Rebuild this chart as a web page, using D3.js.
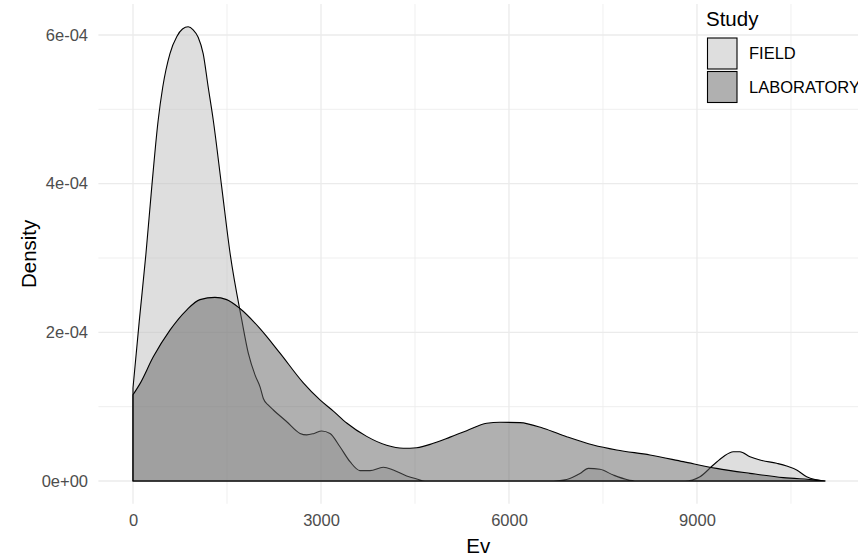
<!DOCTYPE html>
<html>
<head>
<meta charset="utf-8">
<script src="https://cdn.jsdelivr.net/npm/d3@7"></script>
<style>
  body { margin: 0; background: #fff; }
  svg { display: block; font-family: "Liberation Sans", Arial, sans-serif; }
</style>
</head>
<body>
<div id="chart"></div>
<script>
// density values are stored in units of 1e-4
const DENSITY_UNIT = 1e-4;

const studies = ['FIELD', 'LABORATORY'];

const fieldEv = [0, 100, 207, 300, 400, 475, 590, 700, 790, 880, 960, 1040, 1120, 1200, 1280, 1415, 1550, 1735, 1840, 1950, 2030, 2080, 2160, 2240, 2450, 2665, 2772, 2890, 3011, 3144, 3303, 3463, 3622, 3782, 3994, 4154, 4367, 4527, 4660, 6710, 6920, 7133, 7266, 7452, 7665, 7878, 8037, 8808, 9048, 9260, 9420, 9580, 9686, 9846, 10005, 10271, 10431, 10591, 10750, 10883, 11043];
const fieldDensity = [1.25, 2.15, 3.06, 3.96, 4.84, 5.30, 5.75, 5.98, 6.08, 6.11, 6.07, 5.97, 5.75, 5.30, 4.86, 3.96, 3.06, 2.17, 1.72, 1.42, 1.26, 1.11, 1.02, 0.955, 0.80, 0.64, 0.62, 0.64, 0.673, 0.64, 0.46, 0.26, 0.14, 0.14, 0.184, 0.148, 0.067, 0.027, 0, 0, 0.02, 0.10, 0.17, 0.157, 0.08, 0.02, 0, 0, 0.058, 0.215, 0.327, 0.394, 0.394, 0.327, 0.283, 0.238, 0.202, 0.148, 0.058, 0.02, 0];

const labEv = [0, 112, 324, 590, 856, 1069, 1308, 1495, 1707, 2027, 2346, 2718, 2984, 3197, 3410, 3729, 4048, 4313, 4527, 4792, 5060, 5325, 5644, 5856, 6176, 6547, 6920, 7345, 7718, 8250, 8781, 9313, 9845, 10377, 10910, 11043];
const labDensity = [1.16, 1.31, 1.67, 2.03, 2.30, 2.44, 2.47, 2.44, 2.32, 2.05, 1.72, 1.32, 1.09, 0.94, 0.78, 0.60, 0.48, 0.44, 0.448, 0.507, 0.59, 0.677, 0.776, 0.79, 0.785, 0.709, 0.596, 0.484, 0.417, 0.35, 0.26, 0.17, 0.103, 0.045, 0.013, 0];

const xTicks = [0, 3000, 6000, 9000];
const xTickLabels = ['0', '3000', '6000', '9000'];
const xMinor = [1500, 4500, 7500, 10500];
const yTicks = [0, 2e-4, 4e-4, 6e-4];
const yTickLabels = ['0e+00', '2e-04', '4e-04', '6e-04'];
const yMinor = [1e-4, 3e-4, 5e-4];

const width = 858, height = 557;
const fills = { FIELD: '#bdbdbd', LABORATORY: '#616161' };
const alpha = 0.5;

let x = d3.scaleLinear().domain([-552, 11595]).range([98.4, 859.6]);
let y = d3.scaleLinear().domain([-0.3055e-4, 6.4155e-4]).range([503.7, 4.1]);

let series = [
  { key: 'FIELD', values: fieldEv.map((ev, i) => ({ ev, d: fieldDensity[i] * DENSITY_UNIT })) },
  { key: 'LABORATORY', values: labEv.map((ev, i) => ({ ev, d: labDensity[i] * DENSITY_UNIT })) }
];

let svg = d3.select('#chart').append('svg')
  .attr('width', width)
  .attr('height', height);

let panel = { left: x.range()[0], right: x.range()[1], top: y.range()[1], bottom: y.range()[0] };

// grid
let grid = svg.append('g');
grid.selectAll('.xminor').data(xMinor).enter().append('line')
  .attr('x1', d => x(d)).attr('x2', d => x(d))
  .attr('y1', panel.top).attr('y2', panel.bottom)
  .attr('stroke', '#ebebeb').attr('stroke-width', 0.8);
grid.selectAll('.yminor').data(yMinor).enter().append('line')
  .attr('x1', panel.left).attr('x2', panel.right)
  .attr('y1', d => y(d)).attr('y2', d => y(d))
  .attr('stroke', '#ebebeb').attr('stroke-width', 0.8);
grid.selectAll('.xmajor').data(xTicks).enter().append('line')
  .attr('x1', d => x(d)).attr('x2', d => x(d))
  .attr('y1', panel.top).attr('y2', panel.bottom)
  .attr('stroke', '#ebebeb').attr('stroke-width', 1.3);
grid.selectAll('.ymajor').data(yTicks).enter().append('line')
  .attr('x1', panel.left).attr('x2', panel.right)
  .attr('y1', d => y(d)).attr('y2', d => y(d))
  .attr('stroke', '#ebebeb').attr('stroke-width', 1.3);

// densities
let area = d3.area()
  .x(d => x(d.ev))
  .y0(y(0))
  .y1(d => y(d.d))
  .curve(d3.curveMonotoneX);

svg.selectAll('.density')
  .data(series)
  .enter().append('path')
  .attr('class', 'density')
  .attr('d', d => area(d.values))
  .attr('fill', d => fills[d.key])
  .attr('fill-opacity', alpha)
  .attr('stroke', '#000')
  .attr('stroke-width', 1.1)
  .attr('stroke-linejoin', 'round');

// axes (labels only, like theme_minimal)
let xAxis = svg.append('g')
  .attr('transform', `translate(0,${512})`)
  .call(d3.axisBottom(x).tickValues(xTicks).tickFormat((d, i) => xTickLabels[i]).tickSize(0).tickPadding(2));
xAxis.select('.domain').remove();
xAxis.selectAll('text')
  .attr('font-size', 16.5)
  .attr('font-family', '"Liberation Sans", Arial, sans-serif')
  .attr('fill', '#4d4d4d');

let yAxis = svg.append('g')
  .attr('transform', `translate(${92},0)`)
  .call(d3.axisLeft(y).tickValues(yTicks).tickFormat((d, i) => yTickLabels[i]).tickSize(0).tickPadding(4));
yAxis.select('.domain').remove();
yAxis.selectAll('text')
  .attr('font-size', 16.5)
  .attr('font-family', '"Liberation Sans", Arial, sans-serif')
  .attr('fill', '#4d4d4d');

svg.append('text')
  .attr('x', (panel.left + 858) / 2)
  .attr('y', 553)
  .attr('text-anchor', 'middle')
  .attr('font-size', 20.5)
  .attr('fill', '#000')
  .text('Ev');

svg.append('text')
  .attr('transform', `translate(36,${(panel.top + panel.bottom) / 2}) rotate(-90)`)
  .attr('text-anchor', 'middle')
  .attr('font-size', 20.5)
  .attr('fill', '#000')
  .text('Density');

// legend
let legend = svg.append('g').attr('transform', 'translate(706,0)');
legend.append('text')
  .attr('x', 0)
  .attr('y', 26)
  .attr('font-size', 20.5)
  .attr('fill', '#000')
  .text('Study');

let keys = legend.selectAll('.key')
  .data(studies)
  .enter().append('g')
  .attr('class', 'key')
  .attr('transform', (d, i) => `translate(0,${37.5 + i * 33.5})`);

keys.append('rect')
  .attr('x', 1.5).attr('y', 0.5)
  .attr('width', 29.5).attr('height', 31)
  .attr('fill', '#fff');
keys.append('rect')
  .attr('x', 1.5).attr('y', 0.5)
  .attr('width', 29.5).attr('height', 31)
  .attr('fill', d => fills[d])
  .attr('fill-opacity', alpha)
  .attr('stroke', '#000')
  .attr('stroke-width', 1.1);

keys.append('text')
  .attr('x', 43)
  .attr('y', 16)
  .attr('dy', '0.35em')
  .attr('font-size', 16.5)
  .attr('fill', '#000')
  .text(d => d);
</script>
</body>
</html>
